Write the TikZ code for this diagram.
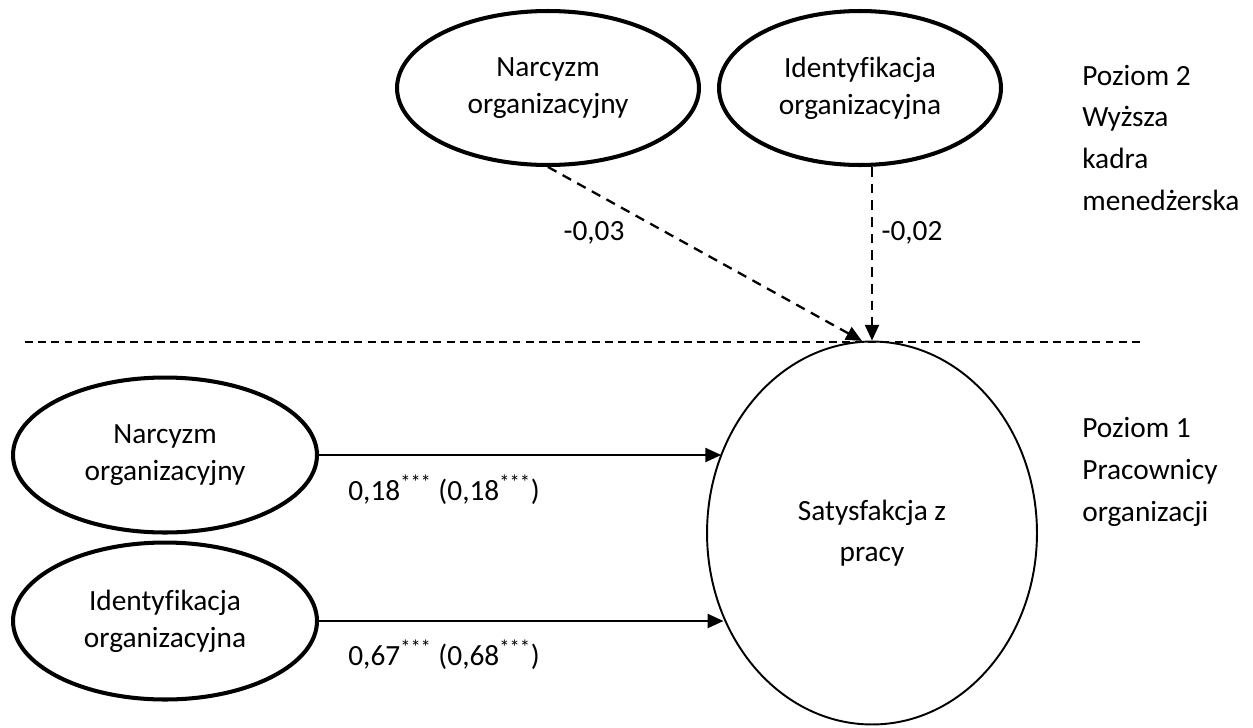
\documentclass[tikz,border=0pt]{standalone}
\usepackage{fontspec}
\setmainfont{Carlito}[Ligatures=NoCommon]
\usetikzlibrary{arrows.meta, shapes.geometric}
\definecolor{darkline}{HTML}{000000}
\tikzset{
  latent/.style={ellipse, draw=darkline, line width=2.3pt, inner sep=0pt, align=center, font=\fontsize{16.7}{21}\selectfont},
  outcome/.style={ellipse, draw=darkline, line width=1.1pt, inner sep=0pt, align=center, font=\fontsize{16.7}{23.3}\selectfont},
  flow/.style={-{Triangle[length=9pt, width=8pt]}, line width=1.1pt, draw=darkline},
  between/.style={flow, line width=1.3pt, dash pattern=on 5.5pt off 4pt},
  divider/.style={line width=0.9pt, dash pattern=on 4.5pt off 3pt, draw=darkline},
  coef/.style={font=\fontsize{16.7}{19.9}\selectfont, inner sep=0pt},
  level-title/.style={font=\fontsize{16.7}{23.9}\selectfont, align=left, inner sep=0pt}
}

\begin{document}
\begin{tikzpicture}[x=0.02cm, y=-0.02cm]

\useasboundingbox (0,0) rectangle (1253,727);

\node[latent, minimum width=6.04cm, minimum height=3.08cm] (narcTop) at (548, 88) {Narcyzm\\organizacyjny};
\node[latent, minimum width=5.64cm, minimum height=3.08cm] (identTop) at (860, 88) {Identyfikacja\\organizacyjna};

\node[latent, minimum width=6.08cm, minimum height=3.1cm] (narcLow) at (165, 455) {Narcyzm\\organizacyjny};
\node[latent, minimum width=6.08cm, minimum height=3.14cm] (identLow) at (165, 621) {Identyfikacja\\organizacyjna};

\node[outcome, minimum width=6.6cm, minimum height=7.66cm] (satisf) at (872, 533) {Satysfakcja z\\pracy};

\node[level-title, anchor=west] (level2) at (1082, 138) {Poziom 2\\Wyższa\\kadra\\menedżerska};
\node[level-title, anchor=west] (level1) at (1082, 472) {Poziom 1\\Pracownicy\\organizacji};

\node[coef] (coefNarcTop) at (594, 233) {-0,03};
\node[coef] (coefIdentTop) at (912, 233) {-0,02};
\node[coef, anchor=west] (coefNarcLow) at (348, 490) {0,18\textsuperscript{***} (0,18\textsuperscript{***})};
\node[coef, anchor=west] (coefIdentLow) at (348, 655) {0,67\textsuperscript{***} (0,68\textsuperscript{***})};

\coordinate (divL) at (25, 342);
\coordinate (divR) at (1145, 342);
\draw[divider] (divL) -- (divR);

\draw[between] (narcTop.south) -- (satisf.93);
\draw[between] (satisf.north |- identTop.south) -- (satisf.north);
\draw[flow] (narcLow.east) -- (satisf.152.7 |- narcLow.east);
\draw[flow] (identLow.east) -- (satisf.210.9 |- identLow.east);

\end{tikzpicture}
\end{document}
